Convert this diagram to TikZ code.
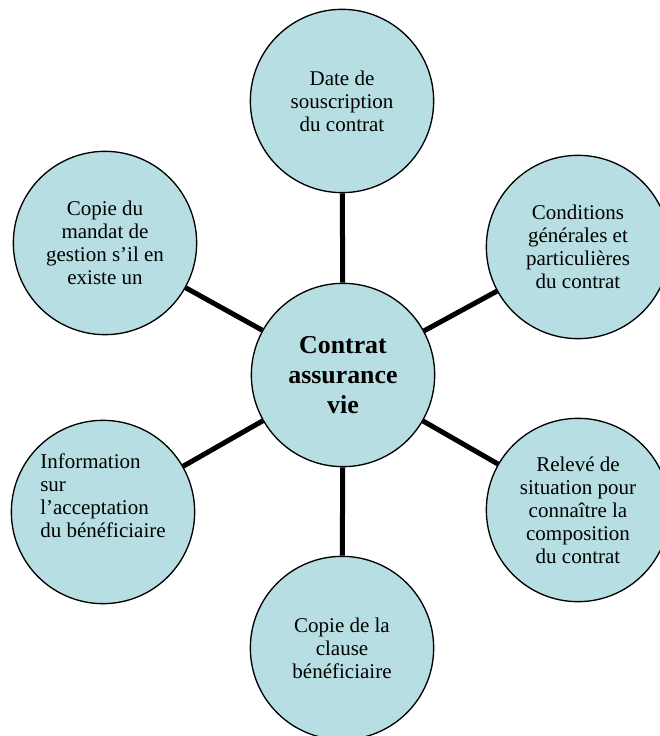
\documentclass[tikz,border=0pt]{standalone}
\usepackage{fontspec}
\setmainfont{Liberation Serif}
\definecolor{bulle}{RGB}{183,223,227}
\tikzset{
  bulle/.style={circle, draw=black, line width=0.8pt, fill=bulle, minimum size=110pt, inner sep=2pt, align=center, font=\fontsize{12.6}{13.8}\selectfont},
  lien/.style={line width=3pt, line cap=butt},
}
\begin{document}
\begin{tikzpicture}[x=0.6pt, y=-0.6pt]
    \useasboundingbox (0,0) rectangle (659,736);
    \node[bulle, font=\bfseries\fontsize{15.5}{18}\selectfont] (contrat) at (343,375) {Contrat\\assurance\\vie};
    \node[bulle] (date) at (342,101) {Date de\\souscription\\du contrat};
    \node[bulle] (conditions) at (578,247) {Conditions\\générales et\\particulières\\du contrat};
    \node[bulle] (releve) at (578,510) {Relevé de\\situation pour\\connaître la\\composition\\du contrat};
    \node[bulle] (clause) at (342,648) {Copie de la\\clause\\bénéficiaire};
    \node[bulle, align=left] (information) at (103,512) {Information\\sur\\l’acceptation\\du bénéficiaire\\[6pt]};
    \node[bulle] (mandat) at (105,243) {Copie du\\mandat de\\gestion s’il en\\existe un};
    \foreach \n in {date,conditions,releve,clause,information,mandat}
        \draw[lien] (contrat) -- (\n);
\end{tikzpicture}
\end{document}
